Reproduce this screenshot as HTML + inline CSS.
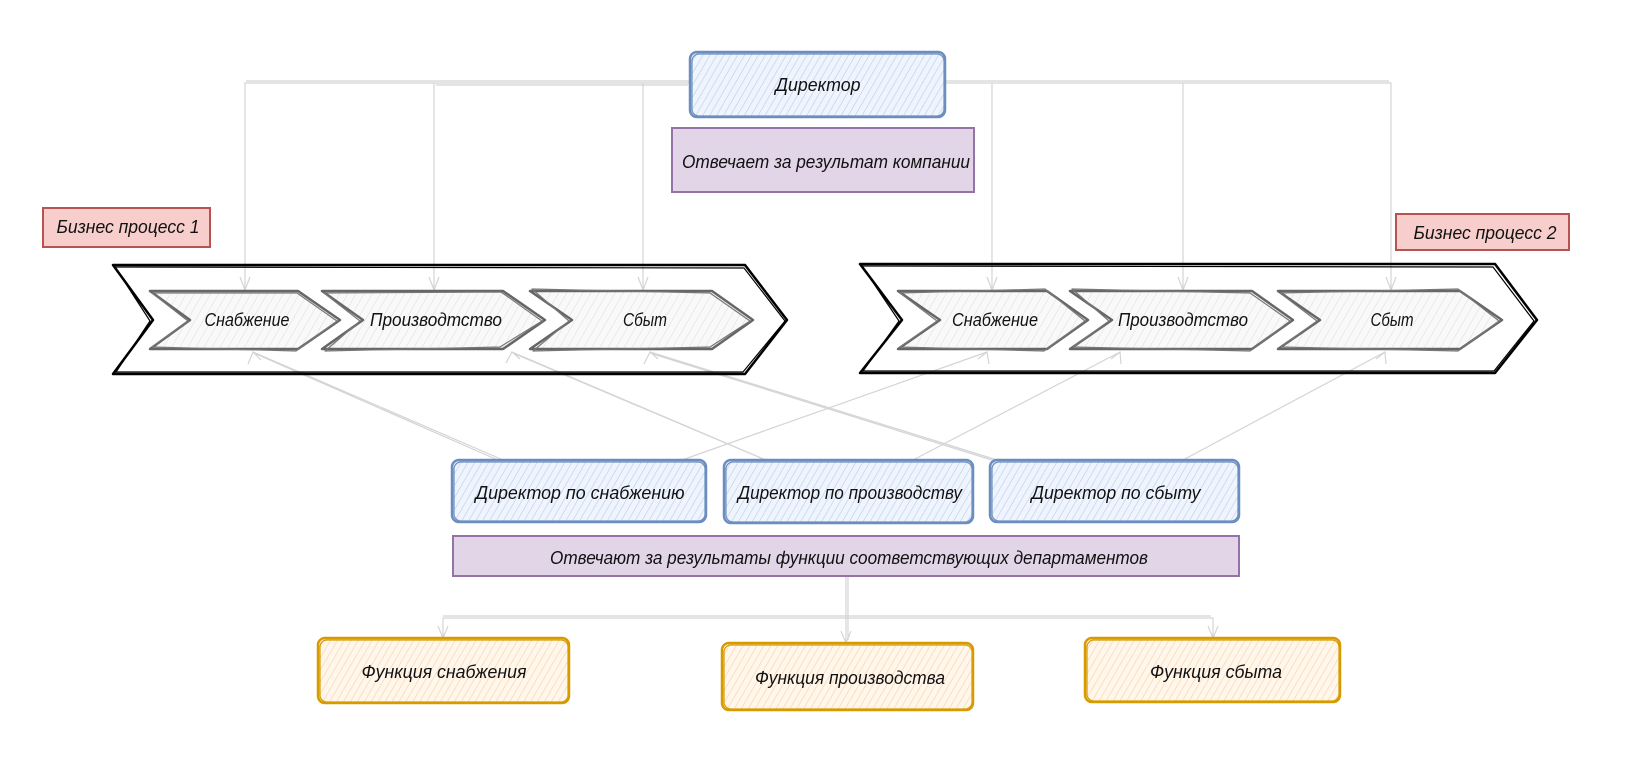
<!DOCTYPE html>
<html><head><meta charset="utf-8"><style>
html,body{margin:0;padding:0;background:#fff;}
svg{display:block;}
text{font-family:"Liberation Sans","DejaVu Sans",sans-serif;font-style:italic;font-size:18px;fill:#111;}
</style></head><body>
<svg width="1636" height="779" viewBox="0 0 1636 779" xmlns="http://www.w3.org/2000/svg">
<defs>
<pattern id="hb" width="6" height="6" patternUnits="userSpaceOnUse" patternTransform="rotate(30)">
<rect width="6" height="6" fill="#f0f5fd"/><line x1="0" y1="0" x2="0" y2="6" stroke="#b8cff2" stroke-width="1.3"/></pattern>
<pattern id="ho" width="6" height="6" patternUnits="userSpaceOnUse" patternTransform="rotate(30)">
<rect width="6" height="6" fill="#fff6ec"/><line x1="0" y1="0" x2="0" y2="6" stroke="#fbd3a8" stroke-width="1.3"/></pattern>
<pattern id="hg" width="7" height="7" patternUnits="userSpaceOnUse" patternTransform="rotate(30)">
<rect width="7" height="7" fill="#f9f9f9"/><line x1="0" y1="0" x2="0" y2="7" stroke="#dcdcdc" stroke-width="1"/></pattern>
</defs>

<!-- connectors top -->
<g fill="none" stroke="#d4d4d4" stroke-width="1.2">
<path d="M690,83 H245 V290 M434,83 V290 M643,83 V290"/>
<path d="M690,81 H246 M688,85 H436"/>
<path d="M945,83 H1391 V290 M992,83 V290 M1183,83 V290"/>
<path d="M945,81 H1389"/>
<path d="M240,277 L245,290 L250,277 M429,277 L434,290 L439,277 M638,277 L643,290 L648,277 M987,277 L992,290 L997,277 M1178,277 L1183,290 L1188,277 M1386,277 L1391,290 L1396,277"/>
<!-- diagonals -->
<path d="M503,460 L253,352 M682,460 L987,352 M766,460 L512,352 M913,460 L1120,352 M997,460 L650,352 M1183,460 L1385,352"/>
<path d="M500,461 L256,354 M768,461 L515,354 M995,461 L653,354"/>
<path d="M248,364 L253,352 L261,360 M506,363 L512,352 L520,359 M644,364 L650,352 L658,359 M978,359 L987,352 L989,364 M1111,359 L1120,352 L1121,364 M1376,359 L1385,352 L1386,364"/>
<!-- bottom -->
<path d="M846,576 V643 M443,618 H1213 M443,618 V638 M1213,618 V638"/>
<path d="M848,576 V640 M443,616 H1211"/>
<path d="M438,626 L443,638 L448,626 M841,631 L846,643 L851,631 M1208,626 L1213,638 L1218,626"/>
</g>

<!-- Director -->
<rect x="690" y="52" width="255" height="65" rx="7" fill="url(#hb)" stroke="#6c8ebf" stroke-width="2.5"/>
<rect x="692" y="54" width="252" height="62" rx="7" fill="none" stroke="#6c8ebf" stroke-width="1.2"/>
<text x="818" y="85" text-anchor="middle" dominant-baseline="central" textLength="85" lengthAdjust="spacingAndGlyphs">Директор</text>

<rect x="672" y="128" width="302" height="64" fill="#e1d5e7" stroke="#9673a6" stroke-width="2"/>
<text x="826" y="162" text-anchor="middle" dominant-baseline="central" textLength="288" lengthAdjust="spacingAndGlyphs">Отвечает за результат компании</text>

<rect x="43" y="208" width="167" height="39" fill="#f8cecc" stroke="#b85450" stroke-width="2"/>
<text x="128" y="227" text-anchor="middle" dominant-baseline="central" textLength="143" lengthAdjust="spacingAndGlyphs">Бизнес процесс 1</text>
<rect x="1396" y="214" width="173" height="36" fill="#f8cecc" stroke="#b85450" stroke-width="2"/>
<text x="1485" y="233" text-anchor="middle" dominant-baseline="central" textLength="143" lengthAdjust="spacingAndGlyphs">Бизнес процесс 2</text>

<!-- big arrows -->
<g fill="none" stroke="#000" stroke-linejoin="round">
<polygon points="113,265 745,265 787,320 745,374 113,374 153,320" stroke-width="2.5"/>
<polygon points="115,267 744,268 785,321 743,372 116,372 150,321" stroke-width="1.2"/>
<polygon points="860,264 1495,264 1537,320 1495,373 860,373 902,320" stroke-width="2.5"/>
<polygon points="862,266 1493,267 1534,321 1494,371 863,371 899,321" stroke-width="1.2"/>
</g>

<!-- chevrons -->
<g fill="url(#hg)" stroke="#666" stroke-width="2.5" stroke-linejoin="round">
<polygon points="150,291 298,291 340,320 298,349 150,349 190,320"/>
<polygon points="322,291 503,291 545,320 503,349 322,349 363,320"/>
<polygon points="530,291 712,291 753,320 712,349 530,349 572,320"/>
<polygon points="898,291 1047,291 1088,320 1047,349 898,349 940,320"/>
<polygon points="1070,291 1252,291 1293,320 1252,349 1070,349 1112,320"/>
<polygon points="1278,291 1460,291 1502,320 1460,349 1278,349 1320,320"/>
</g>
<g fill="none" stroke="#777" stroke-width="1.2" stroke-linejoin="round">
<polygon points="152,293 297,293 337,321 296,351 152,347 188,321"/>
<polygon points="324,293 501,292 542,321 500,347 325,351 360,321"/>
<polygon points="532,289 710,293 750,321 710,347 533,351 569,321"/>
<polygon points="900,293 1045,289 1085,321 1044,351 900,347 937,321"/>
<polygon points="1072,289 1250,293 1290,321 1250,351 1073,347 1109,321"/>
<polygon points="1280,293 1458,289 1499,321 1458,351 1281,347 1317,321"/>
</g>
<text x="247" y="320" text-anchor="middle" dominant-baseline="central" textLength="85" lengthAdjust="spacingAndGlyphs">Снабжение</text>
<text x="436" y="320" text-anchor="middle" dominant-baseline="central" textLength="132" lengthAdjust="spacingAndGlyphs">Производтство</text>
<text x="645" y="320" text-anchor="middle" dominant-baseline="central" textLength="44" lengthAdjust="spacingAndGlyphs">Сбыт</text>
<text x="995" y="320" text-anchor="middle" dominant-baseline="central" textLength="86" lengthAdjust="spacingAndGlyphs">Снабжение</text>
<text x="1183" y="320" text-anchor="middle" dominant-baseline="central" textLength="130" lengthAdjust="spacingAndGlyphs">Производтство</text>
<text x="1392" y="320" text-anchor="middle" dominant-baseline="central" textLength="43" lengthAdjust="spacingAndGlyphs">Сбыт</text>

<!-- directors row -->
<g fill="url(#hb)" stroke="#6c8ebf" stroke-width="2.5">
<rect x="452" y="460" width="254" height="62" rx="7"/>
<rect x="724" y="460" width="249" height="63" rx="7"/>
<rect x="990" y="460" width="249" height="62" rx="7"/>
</g>
<g fill="none" stroke="#6c8ebf" stroke-width="1.2">
<rect x="454" y="462" width="251" height="59" rx="7"/>
<rect x="726" y="462" width="246" height="60" rx="7"/>
<rect x="992" y="462" width="246" height="59" rx="7"/>
</g>
<text x="580" y="493" text-anchor="middle" dominant-baseline="central" textLength="209" lengthAdjust="spacingAndGlyphs">Директор по снабжению</text>
<text x="850" y="493" text-anchor="middle" dominant-baseline="central" textLength="224" lengthAdjust="spacingAndGlyphs">Директор по производству</text>
<text x="1116" y="493" text-anchor="middle" dominant-baseline="central" textLength="169" lengthAdjust="spacingAndGlyphs">Директор по сбыту</text>

<rect x="453" y="536" width="786" height="40" fill="#e1d5e7" stroke="#9673a6" stroke-width="2"/>
<text x="849" y="558" text-anchor="middle" dominant-baseline="central" textLength="598" lengthAdjust="spacingAndGlyphs">Отвечают за результаты функции соответствующих департаментов</text>

<!-- functions -->
<g fill="url(#ho)" stroke="#d79b00" stroke-width="2.5">
<rect x="318" y="638" width="251" height="65" rx="7"/>
<rect x="722" y="643" width="251" height="67" rx="7"/>
<rect x="1085" y="638" width="255" height="64" rx="7"/>
</g>
<g fill="none" stroke="#d79b00" stroke-width="1.2">
<rect x="320" y="640" width="248" height="62" rx="7"/>
<rect x="724" y="645" width="248" height="64" rx="7"/>
<rect x="1087" y="640" width="252" height="61" rx="7"/>
</g>
<text x="444" y="672" text-anchor="middle" dominant-baseline="central" textLength="165" lengthAdjust="spacingAndGlyphs">Функция снабжения</text>
<text x="850" y="678" text-anchor="middle" dominant-baseline="central" textLength="190" lengthAdjust="spacingAndGlyphs">Функция производства</text>
<text x="1216" y="672" text-anchor="middle" dominant-baseline="central" textLength="132" lengthAdjust="spacingAndGlyphs">Функция сбыта</text>
</svg>
</body></html>
